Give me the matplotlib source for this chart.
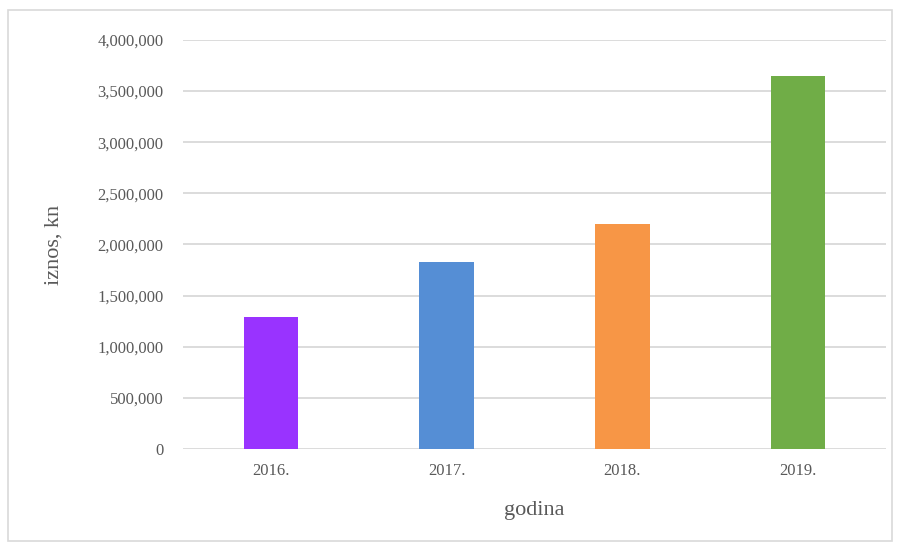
import matplotlib
matplotlib.use("Agg")
from matplotlib import pyplot as plt
from matplotlib.ticker import FuncFormatter
from matplotlib.patches import Rectangle

years = ["2016.", "2017.", "2018.", "2019."]
amounts = [1290000, 1825000, 2205000, 3650000]
bar_colors = ["#9933FF", "#558ED5", "#F79646", "#70AD47"]

plt.rcParams['font.family'] = ['Liberation Serif', 'DejaVu Serif']

fig = plt.figure(figsize=(9, 5.48), dpi=100)
ax = fig.add_axes([0.2033, 0.1807, 0.7811, 0.7463])

x = list(range(len(years)))
ax.bar(x, amounts, width=0.31, color=bar_colors, zorder=3)
ax.set_xticks(x)
ax.set_xticklabels(years)
ax.set_xlim(-0.5, 3.5)
ax.set_ylim(0, 4000000)
ax.set_yticks(range(0, 4000001, 500000))
ax.yaxis.set_major_formatter(FuncFormatter(lambda v, p: f"{int(v):,}"))
ax.grid(axis='y', color='#D9D9D9', linewidth=1.3, zorder=0)
for s in ax.spines.values():
    s.set_visible(False)
ax.tick_params(length=0, colors='#595959', labelsize=12, pad=14)
ax.tick_params(axis='x', pad=10)
ax.set_xlabel("godina", fontsize=16, color='#595959', labelpad=16)
ax.set_ylabel("iznos, kn", fontsize=16, color='#595959', labelpad=24)

fig.patches.append(Rectangle((0.009, 0.012), 0.982, 0.97, transform=fig.transFigure,
                             fill=False, edgecolor='#D9D9D9', linewidth=1.2))

fig.savefig("out.png", dpi=100)
